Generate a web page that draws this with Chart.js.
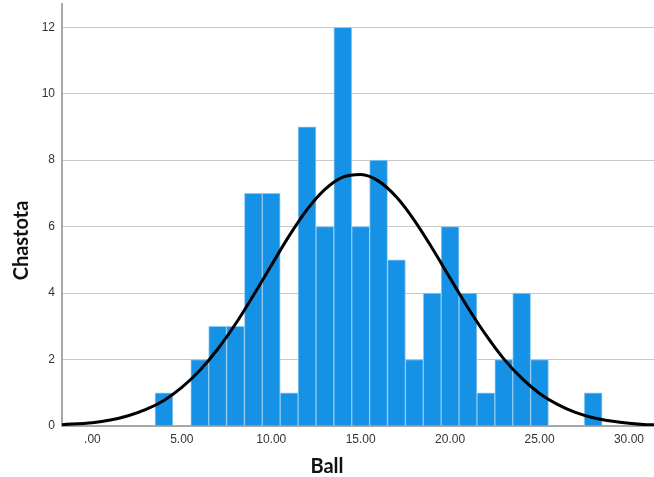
<!DOCTYPE html>
<html>
<head>
<meta charset="utf-8">
<script src="https://cdn.jsdelivr.net/npm/chart.js@4/dist/chart.umd.min.js"></script>
<style>
html,body{margin:0;padding:0;background:#fff;}
#wrap{width:654px;height:477px;position:relative;}
</style>
</head>
<body>
<div id="wrap"><canvas id="c" width="654" height="477"></canvas></div>
<script>
// Histogram bins (centre of each bin) and frequencies
const binCenters = [4, 5, 6, 7, 8, 9, 10, 11, 12, 13, 14, 15, 16, 17, 18, 19, 20, 21, 22, 23, 24, 25, 26, 27, 28];
const frequencies = [1, 0, 2, 3, 3, 7, 7, 1, 9, 6, 12, 6, 8, 5, 2, 4, 6, 4, 1, 2, 4, 2, 0, 0, 1];

// Normal curve
const curveX = [-1.7, 0, 1, 2, 3, 4, 5, 6, 7, 8, 9, 10, 11, 12, 13, 14, 15, 16, 17, 18, 19, 20, 21, 22, 23, 24, 25, 26, 27, 28, 29, 30, 31, 31.4];
const curveY = [0.04, 0.10, 0.18, 0.31, 0.50, 0.77, 1.16, 1.67, 2.31, 3.07, 3.93, 4.83, 5.72, 6.51, 7.12, 7.49, 7.57, 7.37, 6.89, 6.19, 5.35, 4.45, 3.56, 2.74, 2.02, 1.44, 0.98, 0.65, 0.41, 0.25, 0.15, 0.08, 0.04, 0.035];

// Axis ticks
const xTickValues = [0, 5, 10, 15, 20, 25, 30];
const xTickLabels = ['.00', '5.00', '10.00', '15.00', '20.00', '25.00', '30.00'];
const yTickValues = [0, 2, 4, 6, 8, 10, 12];
const yTickLabels = ['0', '2', '4', '6', '8', '10', '12'];

const xTitle = 'Ball';
const yTitle = 'Chastota';

const barData = binCenters.map((x, i) => ({x: x, y: frequencies[i]}));
const lineData = curveX.map((x, i) => ({x: x, y: curveY[i]}));

// Axis titles centred on the whole figure, as in the reference
const axisTitles = {
  id: 'axisTitles',
  afterDraw(chart) {
    const ctx = chart.ctx;
    const W = chart.width, H = chart.height;
    ctx.save();
    ctx.fillStyle = '#111111';
    ctx.font = 'bold 20px Lato';
    ctx.textAlign = 'center';
    ctx.textBaseline = 'alphabetic';
    ctx.fillText(xTitle, W / 2, H - 4);
    ctx.translate(28, H / 2 + 2);
    ctx.rotate(-Math.PI / 2);
    ctx.fillText(yTitle, 0, 0);
    ctx.restore();
  }
};

new Chart(document.getElementById('c'), {
  type: 'bar',
  data: {
    datasets: [
      {
        type: 'line',
        data: lineData,
        borderColor: '#000000',
        borderWidth: 3,
        pointRadius: 0,
        cubicInterpolationMode: 'monotone',
        fill: false,
        order: 0
      },
      {
        type: 'bar',
        data: barData,
        backgroundColor: '#1591E6',
        borderColor: '#8fc9f2',
        borderWidth: 1,
        barPercentage: 1.0,
        categoryPercentage: 1.0,
        order: 1
      }
    ]
  },
  plugins: [axisTitles],
  options: {
    responsive: false,
    animation: false,
    devicePixelRatio: 1,
    layout: {padding: {top: 4, right: 0, left: 0, bottom: 0}},
    plugins: {legend: {display: false}, tooltip: {enabled: false}},
    scales: {
      x: {
        type: 'linear',
        offset: false,
        min: -1.7,
        max: 31.4,
        afterBuildTicks: s => { s.ticks = xTickValues.map(v => ({value: v})); },
        afterFit: s => { s.height = 51; s.paddingLeft = 0; s.paddingRight = 0; },
        grid: {display: false, drawTicks: false, offset: false},
        border: {display: true, color: '#a8a8a8', width: 2},
        ticks: {
          padding: 6,
          color: '#333333',
          font: {family: 'Liberation Sans', size: 12},
          maxRotation: 0,
          callback: (v) => { const i = xTickValues.indexOf(v); return i >= 0 ? xTickLabels[i] : ''; }
        },
        title: {display: false}
      },
      y: {
        min: 0,
        max: 12.7,
        afterBuildTicks: s => { s.ticks = yTickValues.map(v => ({value: v})); },
        afterFit: s => { s.width = 62; s.paddingTop = 0; s.paddingBottom = 0; },
        grid: {color: '#c8c8c8', lineWidth: 1, drawTicks: false},
        border: {display: true, color: '#a8a8a8', width: 2},
        ticks: {
          padding: 7,
          color: '#333333',
          font: {family: 'Liberation Sans', size: 12},
          callback: (v) => { const i = yTickValues.indexOf(v); return i >= 0 ? yTickLabels[i] : ''; }
        },
        title: {display: false}
      }
    }
  }
});
</script>
</body>
</html>
